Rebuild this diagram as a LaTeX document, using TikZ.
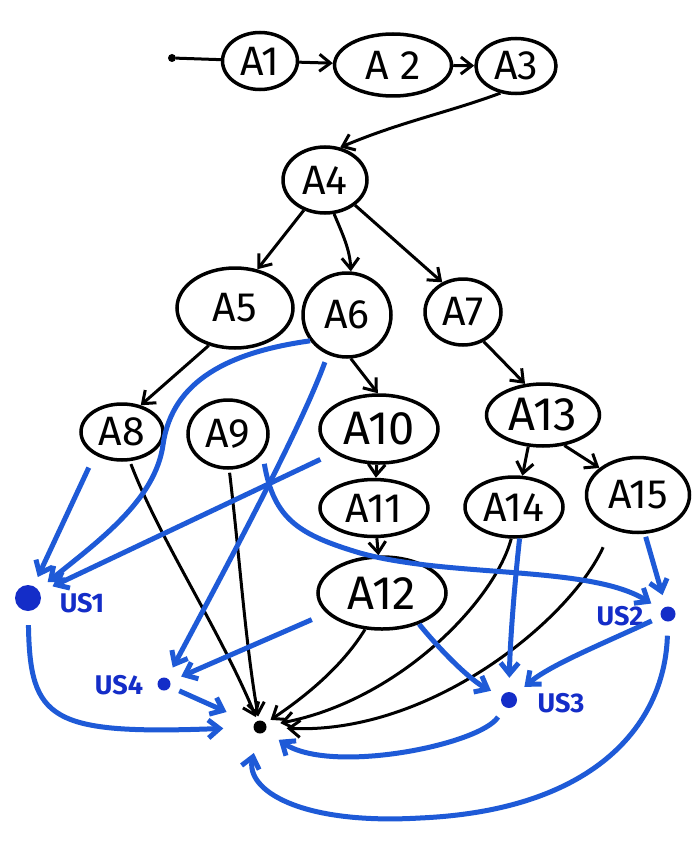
\documentclass[tikz,border=0pt]{standalone}
\usepackage{fontspec}
\setmainfont{Fira Sans}
\usetikzlibrary{shapes.geometric,arrows.meta}
\definecolor{myblue}{RGB}{30,90,215}
\definecolor{dotblue}{RGB}{20,45,200}
\begin{document}
\begin{tikzpicture}[x=1pt,y=-1pt,
  anode/.style={ellipse,draw,line width=3.5pt,inner sep=0pt,font=\fontsize{41}{41}\selectfont},
  bignode/.style={anode,font=\fontsize{47}{47}\selectfont},
  blk/.style={draw=black,line width=3pt,-{Straight Barb[length=11pt,width=17pt]}},
  blu/.style={draw=myblue,line width=5pt,-{Straight Barb[length=11pt,width=18pt]}},
  usdot/.style={circle,fill=dotblue,inner sep=0pt},
  uslabel/.style={text=dotblue,font=\fontsize{27}{27}\selectfont\bfseries}]
\path[use as bounding box] (0,0) rectangle (700,848);
\fill[white] (0,0) rectangle (700,848);

% nodes
\node[circle,fill,inner sep=0pt,minimum size=8pt] (st) at (172,58) {};
\node[anode,minimum width=75pt,minimum height=57pt] (A1) at (260,61) {A1};
\node[anode,minimum width=117pt,minimum height=62pt] (A2) at (393,65) {A 2};
\node[anode,minimum width=80pt,minimum height=55pt] (A3) at (516,66) {A3};
\node[anode,minimum width=84pt,minimum height=66pt] (A4) at (325,180) {A4};
\node[anode,minimum width=116pt,minimum height=80pt] (A5) at (235,308) {A5};
\node[anode,minimum width=88pt,minimum height=84pt] (A6) at (347,315) {A6};
\node[anode,minimum width=76pt,minimum height=66pt] (A7) at (463,312) {A7};
\node[anode,minimum width=82pt,minimum height=56pt] (A8) at (122,432) {A8};
\node[anode,minimum width=80pt,minimum height=68pt] (A9) at (228,434) {A9};
\node[bignode,minimum width=118pt,minimum height=68pt] (A10) at (379,429) {A10};
\node[anode,minimum width=108pt,minimum height=57pt] (A11) at (374,508) {A11};
\node[bignode,minimum width=128pt,minimum height=72pt] (A12) at (382,593) {A12};
\node[bignode,minimum width=113pt,minimum height=62pt] (A13) at (543,415) {A13};
\node[anode,minimum width=98pt,minimum height=60pt] (A14) at (514,507) {A14};
\node[anode,minimum width=103pt,minimum height=75pt] (A15) at (638,495) {A15};

\node[usdot,minimum size=26pt] (US1) at (28,598) {};
\node[usdot,minimum size=13pt] (US4) at (164,684) {};
\node[usdot,minimum size=16pt] (US3) at (509,700) {};
\node[usdot,minimum size=15pt] (US2) at (668,614) {};
\node[circle,fill=black,inner sep=0pt,minimum size=13pt] (sink) at (260,727) {};

\node[uslabel] (L1) at (82,603) {US1};
\node[uslabel] (L4) at (119,685) {US4};
\node[uslabel] (L3) at (561,703) {US3};
\node[uslabel] (L2) at (620,616) {US2};

% black edges
\draw[line width=3pt] (st) -- (A1);
\draw[blk] (A1) -- (A2);
\draw[blk] (A2) -- (A3);
\draw[blk] (A3.240) .. controls (450,112) and (400,122) .. (A4.65);
\draw[blk] (A4.235) -- (A5.60);
\draw[blk] (A4.285) .. controls (343,235) and (350,250) .. (A6.85);
\draw[blk] (A4.320) -- (A7.125);
\draw[blk] (A5.235) -- (A8.55);
\draw[blk] (A6.275) -- (A10.92);
\draw[blk] (A10) -- (A11);
\draw[blk] (A11) -- (A12);
\draw[blk] (A7.305) -- (A13.120);
\draw[blk] (A13.245) -- (A14.75);
\draw[blk] (A13.305) -- (A15.145);
\draw[blk,shorten <=3pt,shorten >=4pt] (A8.285) .. controls (160,540) and (220,630) .. (sink);
\draw[blk,shorten <=3pt,shorten >=4pt] (A9.272) .. controls (240,560) and (245,640) .. (sink);
\draw[blk,shorten >=6pt] (A12.245) .. controls (340,670) and (300,700) .. (sink);
\draw[blk,shorten >=14pt] (A14.265) .. controls (495,600) and (400,700) .. (sink);
\draw[blk,shorten <=20pt,shorten >=20pt] (A15.232) .. controls (570,620) and (430,735) .. (sink);

% blue edges
\draw[blu,shorten <=14pt,shorten >=10pt] (A8.220) -- (US1);
\draw[blu,shorten >=12pt] (A6.215) .. controls (230,352) and (172,380) .. (163,445) .. controls (155,500) and (100,540) .. (US1);
\draw[blu,shorten <=15pt,shorten >=14pt] (A10.208) -- (US1);
\draw[blu,shorten <=8pt,shorten >=12pt] (A6.244) .. controls (300,430) and (230,560) .. (US4);
\draw[blu,shorten <=16pt,shorten >=12pt] (A12.200) -- (US4);
\draw[blu,shorten <=10pt,shorten >=12pt] (A9.-30) .. controls (274,520) and (300,535) .. (360,553) .. controls (450,578) and (590,565) .. (US2);
\draw[blu,shorten <=3pt,shorten >=12pt] (A15.-80) -- (US2);
\draw[blu,shorten >=12pt] (A12.-40) .. controls (440,650) and (470,680) .. (US3);
\draw[blu,shorten >=14pt] (A14.-80) .. controls (515,580) and (510,640) .. (US3);
\draw[blu,shorten <=10pt,shorten >=12pt] (US2.200) .. controls (600,645) and (550,665) .. (US3);
\draw[blu,shorten <=14pt,shorten >=30pt] (US1) .. controls (30,720) and (50,735) .. (sink);
\draw[blu,shorten <=10pt,shorten >=30pt] (US4) -- (sink);
\draw[blu,shorten <=12pt,shorten >=16pt] (US3) .. controls (480,745) and (330,775) .. (sink);
\draw[blu,shorten <=14pt,shorten >=20pt] (US2) .. controls (665,720) and (600,810) .. (420,818) .. controls (300,825) and (245,790) .. (sink);
\end{tikzpicture}
\end{document}
